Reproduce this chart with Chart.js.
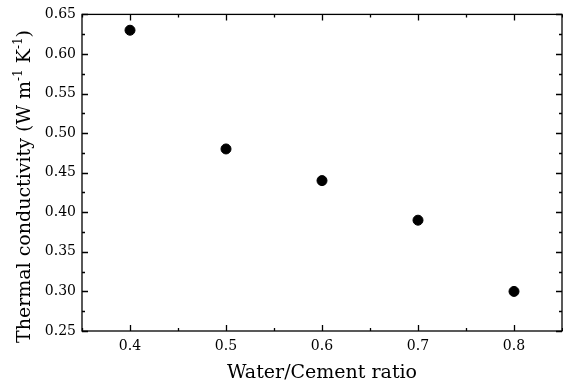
<!DOCTYPE html>
<html>
<head>
<meta charset="utf-8">
<script src="https://cdn.jsdelivr.net/npm/chart.js@4.4.0/dist/chart.umd.min.js"></script>
<style>
  html, body { margin: 0; padding: 0; background: #fff; }
  #wrap { width: 563px; height: 384px; }
</style>
</head>
<body>
<div id="wrap"><canvas id="chart"></canvas></div>
<script>
// data
const ratios = [0.4, 0.5, 0.6, 0.7, 0.8];
const conductivity = [0.63, 0.48, 0.44, 0.39, 0.30];
const xTicks = [0.4, 0.5, 0.6, 0.7, 0.8];
const yTicks = [0.25, 0.30, 0.35, 0.40, 0.45, 0.50, 0.55, 0.60, 0.65];
const yTitle = [["Thermal conductivity (W m", false], ["-1", true], [" K", false], ["-1", true], [")", false]];

const serif = "'DejaVu Serif', serif";

// box frame plus inward major/minor ticks on all four sides
const framePlugin = {
  id: "frame",
  afterDraw(chart) {
    const { ctx, chartArea: a, scales } = chart;
    const xs = scales.x, ys = scales.y;
    ctx.save();
    ctx.strokeStyle = "#000";
    ctx.lineWidth = 1.3;
    ctx.strokeRect(a.left, a.top, a.right - a.left, a.bottom - a.top);
    ctx.beginPath();
    for (let v = 0.35; v <= 0.851; v += 0.05) {
      const major = xTicks.some(t => Math.abs(t - v) < 1e-6);
      const len = major ? 6 : 3;
      const px = Math.round(xs.getPixelForValue(v)) + 0.5;
      ctx.moveTo(px, a.bottom); ctx.lineTo(px, a.bottom - len);
      ctx.moveTo(px, a.top); ctx.lineTo(px, a.top + len);
    }
    for (let v = 0.25; v <= 0.651; v += 0.025) {
      const major = yTicks.some(t => Math.abs(t - v) < 1e-6);
      const len = major ? 6 : 3;
      const py = Math.round(ys.getPixelForValue(v)) + 0.5;
      ctx.moveTo(a.left, py); ctx.lineTo(a.left + len, py);
      ctx.moveTo(a.right, py); ctx.lineTo(a.right - len, py);
    }
    ctx.stroke();

    // y title with raised superscripts
    ctx.translate(30, 343);
    ctx.rotate(-Math.PI / 2);
    ctx.fillStyle = "#000";
    ctx.textBaseline = "alphabetic";
    let x = 0;
    yTitle.forEach(([txt, sup]) => {
      ctx.font = (sup ? "12px " : "19px ") + serif;
      ctx.fillText(txt, x, sup ? -8 : 0);
      x += ctx.measureText(txt).width;
    });
    ctx.restore();
  }
};

new Chart(document.getElementById("chart"), {
  type: "scatter",
  data: {
    datasets: [{
      data: ratios.map((r, i) => ({ x: r, y: conductivity[i] })),
      backgroundColor: "#000",
      borderColor: "#000",
      pointRadius: 5,
      pointHoverRadius: 5
    }]
  },
  options: {
    responsive: true,
    maintainAspectRatio: false,
    animation: false,
    layout: { autoPadding: false, padding: { top: 14, right: 1, left: 0, bottom: 0 } },
    plugins: { legend: { display: false }, tooltip: { enabled: false } },
    scales: {
      x: {
        type: "linear",
        min: 0.35,
        max: 0.85,
        afterBuildTicks(s) { s.ticks = xTicks.map(v => ({ value: v })); },
        afterFit(s) { s.height = 53; },
        grid: { display: false, drawTicks: false },
        border: { display: false },
        ticks: {
          color: "#000",
          padding: 7,
          font: { family: serif, size: 14 },
          callback: v => v.toFixed(1)
        },
        title: {
          display: true,
          text: "Water/Cement ratio",
          color: "#000",
          font: { family: serif, size: 19 },
          padding: { top: 6, bottom: 0 }
        }
      },
      y: {
        type: "linear",
        min: 0.25,
        max: 0.65,
        afterBuildTicks(s) { s.ticks = yTicks.map(v => ({ value: v })); },
        afterFit(s) { s.width = 82; },
        grid: { display: false, drawTicks: false },
        border: { display: false },
        ticks: {
          color: "#000",
          padding: 6,
          font: { family: serif, size: 14 },
          callback: v => v.toFixed(2)
        }
      }
    }
  },
  plugins: [framePlugin]
});
</script>
</body>
</html>
